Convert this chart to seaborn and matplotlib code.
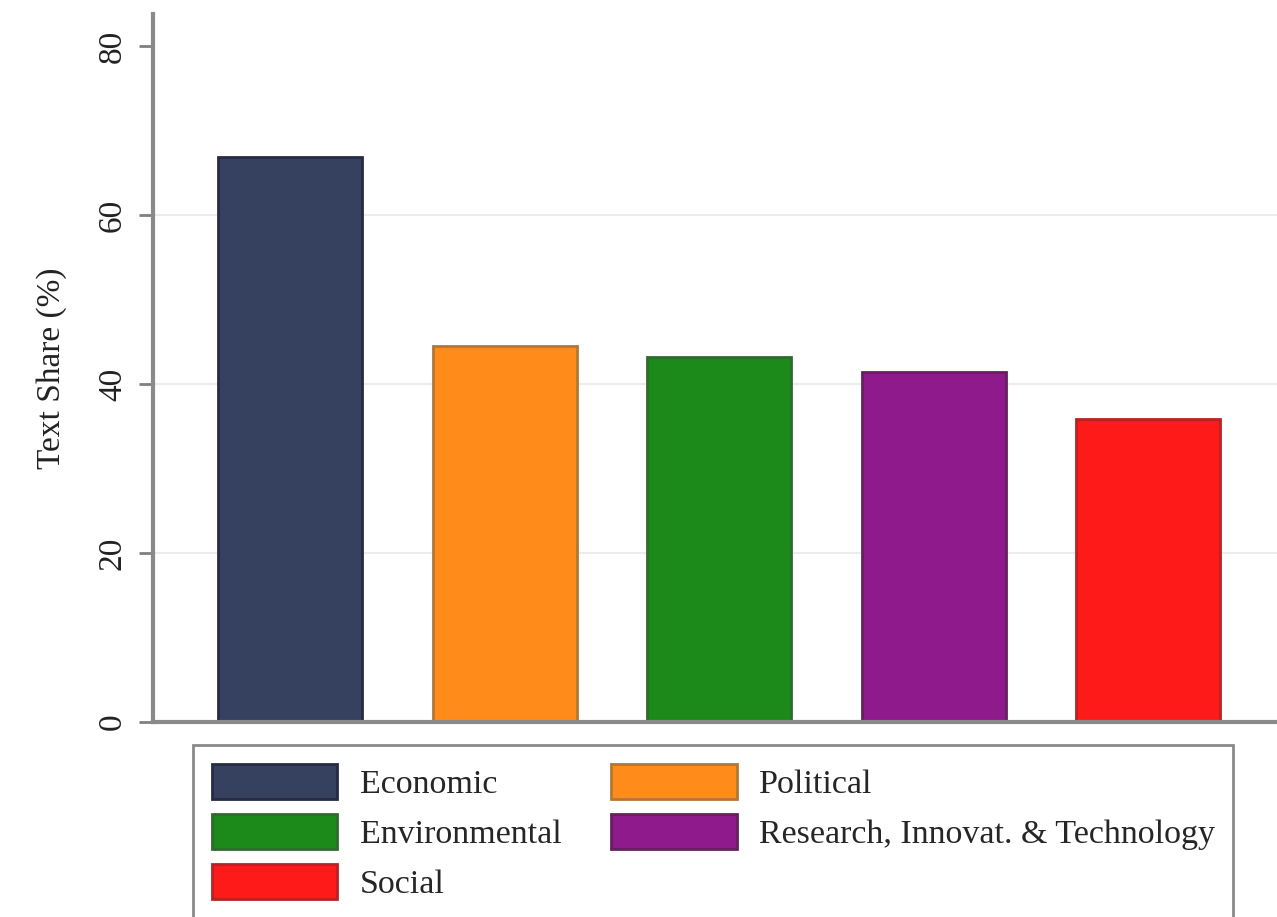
import numpy as np
import pandas as pd
import seaborn as sns
import matplotlib.pyplot as plt

#%% data

categories = ['Economic', 'Political', 'Environmental',
              'Research, Innovat. & Technology', 'Social']
shares = [66.9, 44.5, 43.2, 41.4, 35.9]
face_colors = ['#36405F', '#FF8C1A', '#1B8A1B', '#8E1A8C', '#FF1A1A']
edge_colors = ['#252c44', '#b07838', '#2f6a2f', '#66205f', '#b82222']
yticks = [0, 20, 40, 60, 80]

df = pd.DataFrame({'category': categories, 'share': shares})

#%% plot

sns.set_style('white')
plt.rcParams['font.family'] = ['Liberation Serif', 'DejaVu Serif']

fig = plt.figure(figsize=(12.77, 9.17), dpi=100)
ax = fig.add_axes([0.1198, 0.2126, 0.8802, 0.7721])

sns.barplot(data=df, x='category', y='share', hue='category',
            palette=face_colors, width=0.67, ax=ax, legend=True,
            saturation=1)

for patch, ec in zip(ax.patches, edge_colors):
    patch.set_edgecolor(ec)
    patch.set_linewidth(2)

ax.set_xlim(-0.64, 4.6)
ax.set_ylim(0, 83.8)
ax.set_yticks(yticks)
ax.set_yticklabels([str(t) for t in yticks], rotation=90, va='center',
                   fontsize=24, color='#222222')
ax.set_xticks([])
ax.set_xlabel('')
ax.set_ylabel('Text Share (%)', fontsize=24, labelpad=22, color='#222222')

ax.tick_params(axis='y', direction='out', length=10, width=2,
               color='#808080', pad=8, left=True)

for s in ['top', 'right']:
    ax.spines[s].set_visible(False)
for s in ['left', 'bottom']:
    ax.spines[s].set_color('#8a8a8a')
    ax.spines[s].set_linewidth(3)

ax.yaxis.grid(True, color='#ececec', linewidth=1.5)
ax.set_axisbelow(True)
gl = ax.yaxis.get_gridlines()
gl[0].set_visible(False)
gl[-1].set_visible(False)

# legend filled row by row
handles, labels = ax.get_legend_handles_labels()
for h, ec in zip(handles, edge_colors):
    h.set_edgecolor(ec)
    h.set_linewidth(2)
order = [0, 2, 4, 1, 3]
ax.legend([handles[i] for i in order], [labels[i] for i in order],
          ncol=2, loc='upper left', bbox_to_anchor=(0.151, 0.1876),
          bbox_transform=fig.transFigure, fontsize=24.5, frameon=True,
          fancybox=False, edgecolor='#8a8a8a', framealpha=1,
          handlelength=3.7, handleheight=1.2, handletextpad=0.65,
          labelspacing=0.42, columnspacing=1.45, borderpad=0.55,
          borderaxespad=0)
ax.get_legend().get_frame().set_linewidth(2)

fig.savefig('out.png', dpi=100)
